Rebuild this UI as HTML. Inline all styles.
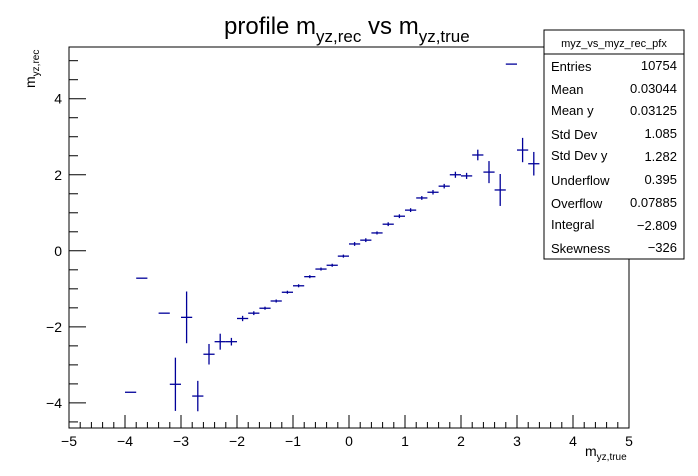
<!DOCTYPE html>
<html><head><meta charset="utf-8"><style>
body{margin:0;background:#fff;}
svg{display:block;font-family:"Liberation Sans",Arial,sans-serif;}
</style></head><body>
<svg id="chart" width="698" height="476" viewBox="0 0 698 476" xmlns="http://www.w3.org/2000/svg">
<rect width="698" height="476" fill="#fff"/>
<text x="224" y="34" font-size="24">profile m<tspan font-size="17" dy="8">yz,rec</tspan><tspan dy="-8"> vs m</tspan><tspan font-size="17" dy="8">yz,true</tspan></text>
<rect x="69" y="47" width="560" height="381" fill="none" stroke="#000" stroke-width="1"/>
<g id="xaxis"></g>
<g id="yaxis"></g>
<g id="points"></g>
<text x="585" y="456" font-size="14">m<tspan font-size="10" dy="4">yz,true</tspan></text>
<text transform="translate(35,88) rotate(-90)" font-size="14">m<tspan font-size="10" dy="4">yz,rec</tspan></text>
<g>
<rect x="544" y="30" width="140" height="229" fill="#fff" stroke="#000"/>
<line x1="544" y1="54" x2="684" y2="54" stroke="#000"/>
<text x="614" y="47" font-size="11" text-anchor="middle">myz_vs_myz_rec_pfx</text>
<g font-size="13">
<text x="551" y="71">Entries</text><text x="677" y="70" text-anchor="end">10754</text>
<text x="551" y="94">Mean</text><text x="677" y="93" text-anchor="end">0.03044</text>
<text x="551" y="115">Mean y</text><text x="677" y="115" text-anchor="end">0.03125</text>
<text x="551" y="139">Std Dev</text><text x="677" y="138" text-anchor="end">1.085</text>
<text x="551" y="160">Std Dev y</text><text x="677" y="161" text-anchor="end">1.282</text>
<text x="551" y="185">Underflow</text><text x="677" y="184" text-anchor="end">0.395</text>
<text x="551" y="208">Overflow</text><text x="677" y="207" text-anchor="end">0.07885</text>
<text x="551" y="229">Integral</text><text x="677" y="230" text-anchor="end">−2.809</text>
<text x="551" y="253">Skewness</text><text x="677" y="252" text-anchor="end">−326</text>
</g></g>
</svg>
<script>
const binCenters=[-3.9,-3.7,-3.3,-3.1,-2.9,-2.7,-2.5,-2.3,-2.1,-1.9,-1.7,-1.5,-1.3,-1.1,-0.9,-0.7,-0.5,-0.3,-0.1,0.1,0.3,0.5,0.7,0.9,1.1,1.3,1.5,1.7,1.9,2.1,2.3,2.5,2.7,2.9,3.1,3.3];
const meanValues=[-3.72,-0.72,-1.64,-3.51,-1.75,-3.82,-2.72,-2.39,-2.39,-1.78,-1.64,-1.51,-1.32,-1.09,-0.92,-0.68,-0.48,-0.38,-0.14,0.18,0.28,0.47,0.70,0.91,1.07,1.39,1.54,1.70,2.0,1.97,2.52,2.07,1.60,4.91,2.65,2.29];
const errValues=[0,0,0,0.7,0.68,0.4,0.27,0.21,0.1,0.07,0.05,0.04,0.04,0.04,0.04,0.04,0.04,0.04,0.04,0.05,0.05,0.04,0.05,0.05,0.05,0.05,0.06,0.06,0.08,0.08,0.14,0.29,0.42,0,0.32,0.31];
const xTickLabels=[-5,-4,-3,-2,-1,0,1,2,3,4,5];
const yTickLabels=[-4,-2,0,2,4];
const binWidth=0.2;
const NS="http://www.w3.org/2000/svg";
const X0=69,X1=629,Y0=428,Y1=47,xmin=-5,xmax=5,ymin=-4.66,ymax=5.36;
function sx(v){return X0+(v-xmin)/(xmax-xmin)*(X1-X0);}
function sy(v){return Y0-(v-ymin)/(ymax-ymin)*(Y0-Y1);}
function mk(tag,attrs,parent){const e=document.createElementNS(NS,tag);for(const k in attrs)e.setAttribute(k,attrs[k]);parent.appendChild(e);return e;}
const xa=document.getElementById('xaxis'),ya=document.getElementById('yaxis'),pts=document.getElementById('points');
for(let i=0;i<=50;i++){const v=xmin+i*0.2;const major=i%5===0;
 const t=mk('line',{x1:sx(v),x2:sx(v),y1:Y0,y2:Y0-(major?13:6),stroke:'#000'},xa);
 
 }
xTickLabels.forEach(v=>{const t=mk('text',{x:sx(v),y:446,'font-size':14,'text-anchor':'middle'},xa);t.textContent=v<0?'−'+Math.abs(v):v;
 
 });
for(let v=-4.5;v<=5.3;v+=0.5){const major=Math.abs(v%2)<1e-6;
 const t=mk('line',{x1:X0,x2:X0+(major?17:9),y1:sy(v),y2:sy(v),stroke:'#000'},ya);
 
 }
yTickLabels.forEach(v=>{const t=mk('text',{x:62,y:sy(v)+5,'font-size':14,'text-anchor':'end'},ya);t.textContent=v<0?'−'+Math.abs(v):v;
 
 });
binCenters.forEach((c,i)=>{const g=mk('g',{stroke:'#000099','stroke-width':1.3},pts);
 
 
 const y=sy(meanValues[i]);
 mk('line',{x1:sx(c-binWidth/2),x2:sx(c+binWidth/2),y1:y,y2:y},g);
 if(errValues[i]>0)mk('line',{x1:sx(c),x2:sx(c),y1:sy(meanValues[i]+errValues[i]),y2:sy(meanValues[i]-errValues[i])},g);});
</script>
</body></html>
